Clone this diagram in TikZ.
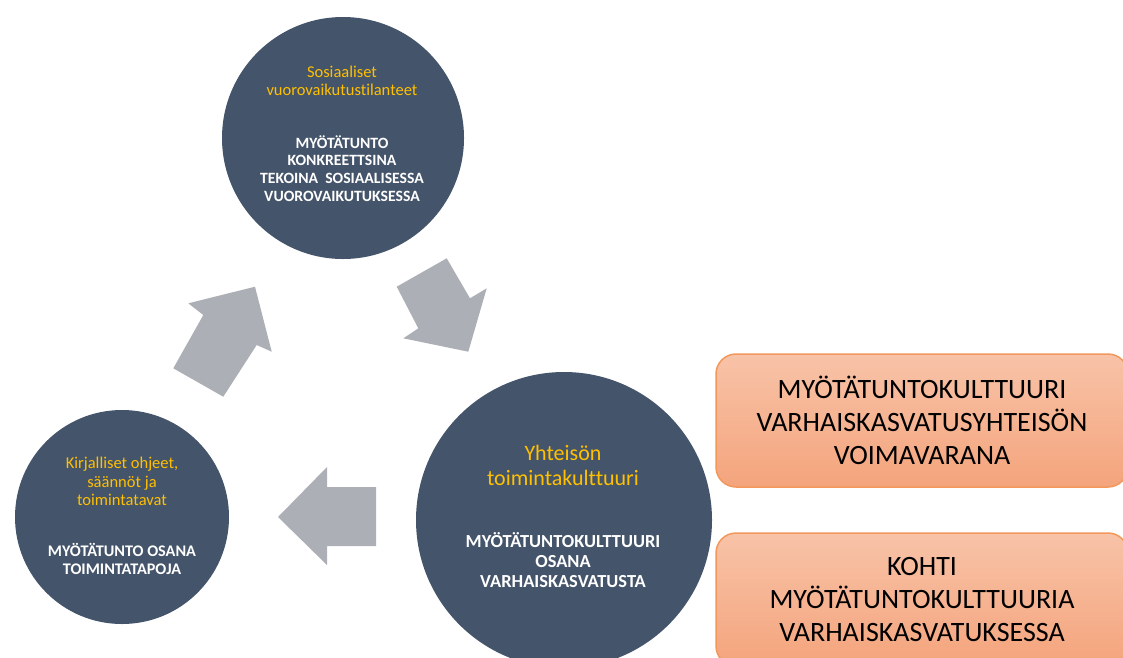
\documentclass[tikz,border=0pt]{standalone}
\usepackage{fontspec}
\setmainfont{Carlito}[Ligatures=NoCommon]
\definecolor{circ}{HTML}{44546A}
\definecolor{gold}{HTML}{FFC000}
\definecolor{arr}{HTML}{ADAFB6}
\definecolor{boxtop}{HTML}{F8C3A8}
\definecolor{boxbot}{HTML}{F4A47C}
\definecolor{boxline}{HTML}{F2985C}
\begin{document}
\begin{tikzpicture}[x=1pt,y=-1pt,
  bigcirc/.style={circle,fill=circ,inner sep=0pt,minimum size=#1},
  ytext/.style={text=gold,align=center,inner sep=0pt},
  wtext/.style={text=white,align=center,inner sep=0pt},
  obox/.style={draw=boxline,line width=1.5pt,rounded corners=20pt,top color=boxtop,bottom color=boxbot,align=center,minimum width=412pt,minimum height=133pt,font=\fontsize{28}{33}\selectfont,inner sep=0pt},
  blockarrow/.style={fill=arr}]
\useasboundingbox (0,0) rectangle (1123,657);
\clip (0,0) rectangle (1123,657);
% circles
\node[bigcirc=242pt] (social) at (343,138) {};
\node[bigcirc=296pt] (culture) at (564,520) {};
\node[bigcirc=214pt] (rules) at (122,517) {};
% arrows
\fill[blockarrow] (173.3,368.3) -- (203.3,315) -- (188.3,303.3) -- (255,286.7) -- (271.7,351.7) -- (256.7,345) -- (223.3,396.7) -- cycle;
\fill[blockarrow] (396.7,286.7) -- (446.7,258.3) -- (470,298.3) -- (486.7,288.3) -- (468.3,351.7) -- (403.3,338.3) -- (418.3,328.3) -- cycle;
\fill[blockarrow] (376,487) -- (327,487) -- (327,467) -- (278,517) -- (327,565) -- (327,546) -- (376,546) -- cycle;
% texts
\node[ytext,font=\fontsize{16.5}{18}\selectfont] (socialT) at (342,81) {Sosiaaliset\\vuorovaikutustilanteet};
\node[wtext,font=\bfseries\fontsize{15.7}{17.7}\selectfont] (socialB) at (342,168.5) {MYÖTÄTUNTO\\KONKREETTSINA\\TEKOINA\ \ SOSIAALISESSA\\VUOROVAIKUTUKSESSA};
\node[ytext,font=\fontsize{16.5}{18.5}\selectfont] (rulesT) at (122,481.5) {Kirjalliset ohjeet,\\säännöt ja\\toimintatavat};
\node[wtext,font=\bfseries\fontsize{16.2}{18}\selectfont] (rulesB) at (122,559) {MYÖTÄTUNTO OSANA\\TOIMINTATAPOJA};
\node[ytext,font=\fontsize{22}{25}\selectfont] (cultureT) at (563,465.5) {Yhteisön\\toimintakulttuuri};
\node[wtext,font=\bfseries\fontsize{18.4}{20}\selectfont] (cultureB) at (563,560) {MYÖTÄTUNTOKULTTUURI\\OSANA\\VARHAISKASVATUSTA};
% boxes
\node[obox] (strength) at (922,420.5) {MYÖTÄTUNTOKULTTUURI\\VARHAISKASVATUSYHTEISÖN\\VOIMAVARANA};
\node[obox] (toward) at (922,599.5) {KOHTI\\MYÖTÄTUNTOKULTTUURIA\\VARHAISKASVATUKSESSA};
\end{tikzpicture}
\end{document}
